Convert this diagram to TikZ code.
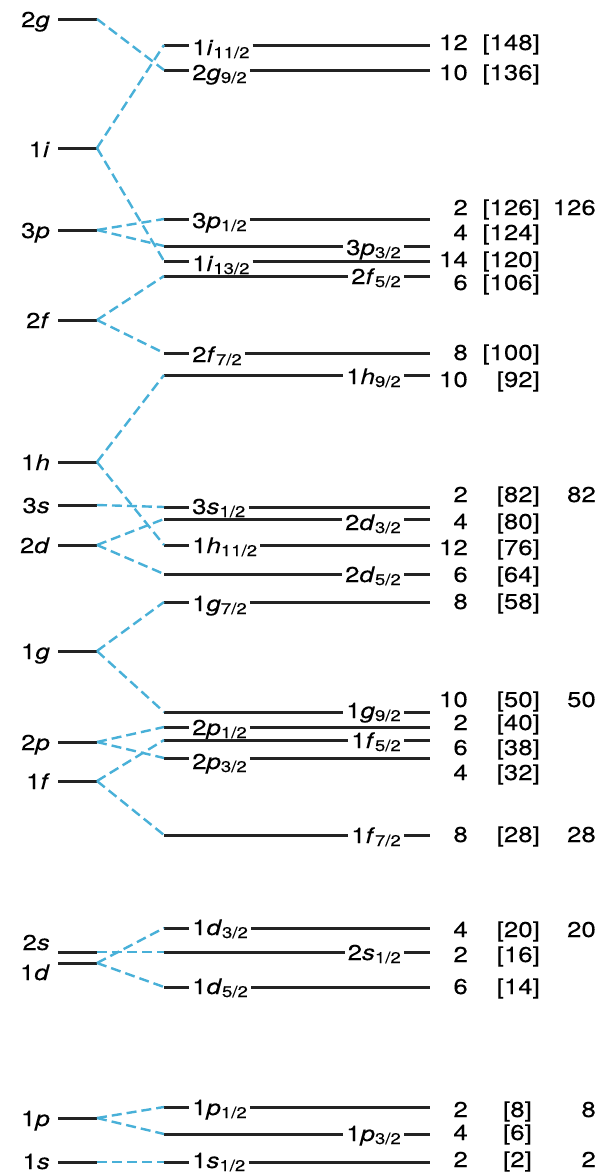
\documentclass[tikz,border=0pt]{standalone}
\usepackage{fontspec}
\setmainfont{TeX Gyre Heros}[FakeStretch=1.2, FakeBold=0.2]
\usepackage{tikz}
\definecolor{splitblue}{RGB}{72,176,216}
\definecolor{levelgray}{RGB}{35,35,35}
\newcommand{\jsub}[1]{\raisebox{-3pt}{\fontsize{15.5}{16}\selectfont #1}}

\begin{document}
\begin{tikzpicture}[x=1pt, y=-1pt,
    level/.style={draw=levelgray, line width=3pt},
    split/.style={draw=splitblue, line width=2.4pt, dash pattern=on 10pt off 5pt},
    oscl/.style={anchor=base east, inner sep=0pt},
    nl/.style={anchor=base west, inner ysep=0pt, inner xsep=3pt},
    nr/.style={anchor=base east, inner ysep=0pt, inner xsep=3pt},
    num/.style={anchor=base east, inner sep=0pt},
    font=\fontsize{21.5}{24}\selectfont]
    \fill[white] (0,0) rectangle (601,1173);
    \useasboundingbox (0,0) rectangle (601,1173);

    % Oscillator levels (left column)
    \node[oscl] (o2g) at (50,27) {2\textit{g}};
    \draw[level] (58,19) coordinate (a2g) -- (97,19) coordinate (e2g);
    \node[oscl] (o1i) at (50,157) {1\textit{i}};
    \draw[level] (58,148) coordinate (a1i) -- (97,148) coordinate (e1i);
    \node[oscl] (o3p) at (50,238) {3\textit{p}};
    \draw[level] (58,230) coordinate (a3p) -- (97,230) coordinate (e3p);
    \node[oscl] (o2f) at (50,328) {2\textit{f}};
    \draw[level] (58,320) coordinate (a2f) -- (97,320) coordinate (e2f);
    \node[oscl] (o1h) at (50,470) {1\textit{h}};
    \draw[level] (58,462) coordinate (a1h) -- (97,462) coordinate (e1h);
    \node[oscl] (o3s) at (50,513) {3\textit{s}};
    \draw[level] (58,505) coordinate (a3s) -- (97,505) coordinate (e3s);
    \node[oscl] (o2d) at (50,553) {2\textit{d}};
    \draw[level] (58,545) coordinate (a2d) -- (97,545) coordinate (e2d);
    \node[oscl] (o1g) at (50,659) {1\textit{g}};
    \draw[level] (58,651) coordinate (a1g) -- (97,651) coordinate (e1g);
    \node[oscl] (o2p) at (50,750) {2\textit{p}};
    \draw[level] (58,742) coordinate (a2p) -- (97,742) coordinate (e2p);
    \node[oscl] (o1f) at (50,789) {1\textit{f}};
    \draw[level] (58,781) coordinate (a1f) -- (97,781) coordinate (e1f);
    \node[oscl] (o2s) at (50,950) {2\textit{s}};
    \draw[level] (58,952) coordinate (a2s) -- (97,952) coordinate (e2s);
    \node[oscl] (o1d) at (50,980) {1\textit{d}};
    \draw[level] (58,963) coordinate (a1d) -- (97,963) coordinate (e1d);
    \node[oscl] (o1p) at (50,1126) {1\textit{p}};
    \draw[level] (58,1118) coordinate (a1p) -- (97,1118) coordinate (e1p);
    \node[oscl] (o1s) at (50,1169) {1\textit{s}};
    \draw[level] (58,1162) coordinate (a1s) -- (97,1162) coordinate (e1s);

    % Spin-orbit levels (right column): line start coordinates
    \coordinate (b1i11) at (164,45);
    \coordinate (b2g9) at (164,70);
    \coordinate (b3p1) at (164,219);
    \coordinate (b3p3) at (164,246);
    \coordinate (b1i13) at (164,261);
    \coordinate (b2f5) at (164,276);
    \coordinate (b2f7) at (164,353);
    \coordinate (b1h9) at (164,375);
    \coordinate (b3s1) at (164,507);
    \coordinate (b2d3) at (164,519);
    \coordinate (b1h11) at (164,545);
    \coordinate (b2d5) at (164,574);
    \coordinate (b1g7) at (164,602);
    \coordinate (b1g9) at (164,712);
    \coordinate (b2p1) at (164,727);
    \coordinate (b1f5) at (164,740);
    \coordinate (b2p3) at (164,758);
    \coordinate (b1f7) at (164,835);
    \coordinate (b1d3) at (164,928);
    \coordinate (b2s1) at (164,952);
    \coordinate (b1d5) at (164,987);
    \coordinate (b1p1) at (164,1107);
    \coordinate (b1p3) at (164,1134);
    \coordinate (b1s1) at (164,1162);

    % Spin-orbit levels: labels and broken lines
    \node[nl] (t1i11) at (189,55) {1\textit{i}\jsub{11/2}};
    \draw[level] (b1i11) -- (t1i11.west |- b1i11) (t1i11.east |- b1i11) -- (430,45);
    \node[nl] (t2g9) at (189,80) {2\textit{g}\jsub{9/2}};
    \draw[level] (b2g9) -- (t2g9.west |- b2g9) (t2g9.east |- b2g9) -- (430,70);
    \node[nl] (t3p1) at (189,228) {3\textit{p}\jsub{1/2}};
    \draw[level] (b3p1) -- (t3p1.west |- b3p1) (t3p1.east |- b3p1) -- (430,219);
    \node[nr] (t3p3) at (404,255) {3\textit{p}\jsub{3/2}};
    \draw[level] (b3p3) -- (t3p3.west |- b3p3) (t3p3.east |- b3p3) -- (430,246);
    \node[nl] (t1i13) at (189,271) {1\textit{i}\jsub{13/2}};
    \draw[level] (b1i13) -- (t1i13.west |- b1i13) (t1i13.east |- b1i13) -- (430,261);
    \node[nr] (t2f5) at (404,284) {2\textit{f}\jsub{5/2}};
    \draw[level] (b2f5) -- (t2f5.west |- b2f5) (t2f5.east |- b2f5) -- (430,276);
    \node[nl] (t2f7) at (189,362) {2\textit{f}\jsub{7/2}};
    \draw[level] (b2f7) -- (t2f7.west |- b2f7) (t2f7.east |- b2f7) -- (430,353);
    \node[nr] (t1h9) at (404,384) {1\textit{h}\jsub{9/2}};
    \draw[level] (b1h9) -- (t1h9.west |- b1h9) (t1h9.east |- b1h9) -- (430,375);
    \node[nl] (t3s1) at (189,514) {3\textit{s}\jsub{1/2}};
    \draw[level] (b3s1) -- (t3s1.west |- b3s1) (t3s1.east |- b3s1) -- (430,507);
    \node[nr] (t2d3) at (404,530) {2\textit{d}\jsub{3/2}};
    \draw[level] (b2d3) -- (t2d3.west |- b2d3) (t2d3.east |- b2d3) -- (430,519);
    \node[nl] (t1h11) at (189,553) {1\textit{h}\jsub{11/2}};
    \draw[level] (b1h11) -- (t1h11.west |- b1h11) (t1h11.east |- b1h11) -- (430,545);
    \node[nr] (t2d5) at (404,582) {2\textit{d}\jsub{5/2}};
    \draw[level] (b2d5) -- (t2d5.west |- b2d5) (t2d5.east |- b2d5) -- (430,574);
    \node[nl] (t1g7) at (189,611) {1\textit{g}\jsub{7/2}};
    \draw[level] (b1g7) -- (t1g7.west |- b1g7) (t1g7.east |- b1g7) -- (430,602);
    \node[nr] (t1g9) at (404,718) {1\textit{g}\jsub{9/2}};
    \draw[level] (b1g9) -- (t1g9.west |- b1g9) (t1g9.east |- b1g9) -- (430,712);
    \node[nl] (t2p1) at (189,735) {2\textit{p}\jsub{1/2}};
    \draw[level] (b2p1) -- (t2p1.west |- b2p1) (t2p1.east |- b2p1) -- (430,727);
    \node[nr] (t1f5) at (404,748) {1\textit{f}\jsub{5/2}};
    \draw[level] (b1f5) -- (t1f5.west |- b1f5) (t1f5.east |- b1f5) -- (430,740);
    \node[nl] (t2p3) at (189,769) {2\textit{p}\jsub{3/2}};
    \draw[level] (b2p3) -- (t2p3.west |- b2p3) (t2p3.east |- b2p3) -- (430,758);
    \node[nr] (t1f7) at (404,843) {1\textit{f}\jsub{7/2}};
    \draw[level] (b1f7) -- (t1f7.west |- b1f7) (t1f7.east |- b1f7) -- (430,835);
    \node[nl] (t1d3) at (189,935) {1\textit{d}\jsub{3/2}};
    \draw[level] (b1d3) -- (t1d3.west |- b1d3) (t1d3.east |- b1d3) -- (430,928);
    \node[nr] (t2s1) at (404,960) {2\textit{s}\jsub{1/2}};
    \draw[level] (b2s1) -- (t2s1.west |- b2s1) (t2s1.east |- b2s1) -- (430,952);
    \node[nl] (t1d5) at (189,994) {1\textit{d}\jsub{5/2}};
    \draw[level] (b1d5) -- (t1d5.west |- b1d5) (t1d5.east |- b1d5) -- (430,987);
    \node[nl] (t1p1) at (189,1115) {1\textit{p}\jsub{1/2}};
    \draw[level] (b1p1) -- (t1p1.west |- b1p1) (t1p1.east |- b1p1) -- (430,1107);
    \node[nr] (t1p3) at (404,1141) {1\textit{p}\jsub{3/2}};
    \draw[level] (b1p3) -- (t1p3.west |- b1p3) (t1p3.east |- b1p3) -- (430,1134);
    \node[nl] (t1s1) at (189,1168) {1\textit{s}\jsub{1/2}};
    \draw[level] (b1s1) -- (t1s1.west |- b1s1) (t1s1.east |- b1s1) -- (430,1162);

    % Splitting connectors
    \draw[split] (e2g) -- (b2g9);
    \draw[split] (e1i) -- (b1i11);
    \draw[split] (e1i) -- (b1i13);
    \draw[split] (e3p) -- (b3p1);
    \draw[split] (e3p) -- (b3p3);
    \draw[split] (e2f) -- (b2f5);
    \draw[split] (e2f) -- (b2f7);
    \draw[split] (e1h) -- (b1h9);
    \draw[split] (e1h) -- (b1h11);
    \draw[split] (e3s) -- (b3s1);
    \draw[split] (e2d) -- (b2d3);
    \draw[split] (e2d) -- (b2d5);
    \draw[split] (e1g) -- (b1g7);
    \draw[split] (e1g) -- (b1g9);
    \draw[split] (e2p) -- (b2p1);
    \draw[split] (e2p) -- (b2p3);
    \draw[split] (e1f) -- (b1f5);
    \draw[split] (e1f) -- (b1f7);
    \draw[split] (e2s) -- (b2s1);
    \draw[split] (e1d) -- (b1d3);
    \draw[split] (e1d) -- (b1d5);
    \draw[split] (e1p) -- (b1p1);
    \draw[split] (e1p) -- (b1p3);
    \draw[split] (e1s) -- (b1s1);

    % Occupancy, running total and magic numbers
    \node[num] (g148) at (468,50) {12}; \node[num] (c148) at (540,50) {[148]};
    \node[num] (g136) at (468,80) {10}; \node[num] (c136) at (540,80) {[136]};
    \node[num] (g126) at (468,215) {2}; \node[num] (c126) at (540,215) {[126]}; \node[num] (m126) at (596,215) {126};
    \node[num] (g124) at (468,240) {4}; \node[num] (c124) at (540,240) {[124]};
    \node[num] (g120) at (468,267) {14}; \node[num] (c120) at (540,267) {[120]};
    \node[num] (g106) at (468,290) {6}; \node[num] (c106) at (540,290) {[106]};
    \node[num] (g100) at (468,360) {8}; \node[num] (c100) at (540,360) {[100]};
    \node[num] (g92) at (468,387) {10}; \node[num] (c92) at (540,387) {[92]};
    \node[num] (g82) at (468,502) {2}; \node[num] (c82) at (540,502) {[82]}; \node[num] (m82) at (596,502) {82};
    \node[num] (g80) at (468,529) {4}; \node[num] (c80) at (540,529) {[80]};
    \node[num] (g76) at (468,555) {12}; \node[num] (c76) at (540,555) {[76]};
    \node[num] (g64) at (468,582) {6}; \node[num] (c64) at (540,582) {[64]};
    \node[num] (g58) at (468,609) {8}; \node[num] (c58) at (540,609) {[58]};
    \node[num] (g50) at (468,707) {10}; \node[num] (c50) at (540,707) {[50]}; \node[num] (m50) at (596,707) {50};
    \node[num] (g40) at (468,730) {2}; \node[num] (c40) at (540,730) {[40]};
    \node[num] (g38) at (468,755) {6}; \node[num] (c38) at (540,755) {[38]};
    \node[num] (g32) at (468,780) {4}; \node[num] (c32) at (540,780) {[32]};
    \node[num] (g28) at (468,842) {8}; \node[num] (c28) at (540,842) {[28]}; \node[num] (m28) at (596,842) {28};
    \node[num] (g20) at (468,937) {4}; \node[num] (c20) at (540,937) {[20]}; \node[num] (m20) at (596,937) {20};
    \node[num] (g16) at (468,962) {2}; \node[num] (c16) at (540,962) {[16]};
    \node[num] (g14) at (468,994) {6}; \node[num] (c14) at (540,994) {[14]};
    \node[num] (g8) at (468,1117) {2}; \node[num] (c8) at (532,1117) {[8]}; \node[num] (m8) at (596,1117) {8};
    \node[num] (g6) at (468,1140) {4}; \node[num] (c6) at (532,1140) {[6]};
    \node[num] (g2) at (468,1167) {2}; \node[num] (c2) at (532,1167) {[2]}; \node[num] (m2) at (596,1167) {2};
\end{tikzpicture}
\end{document}
